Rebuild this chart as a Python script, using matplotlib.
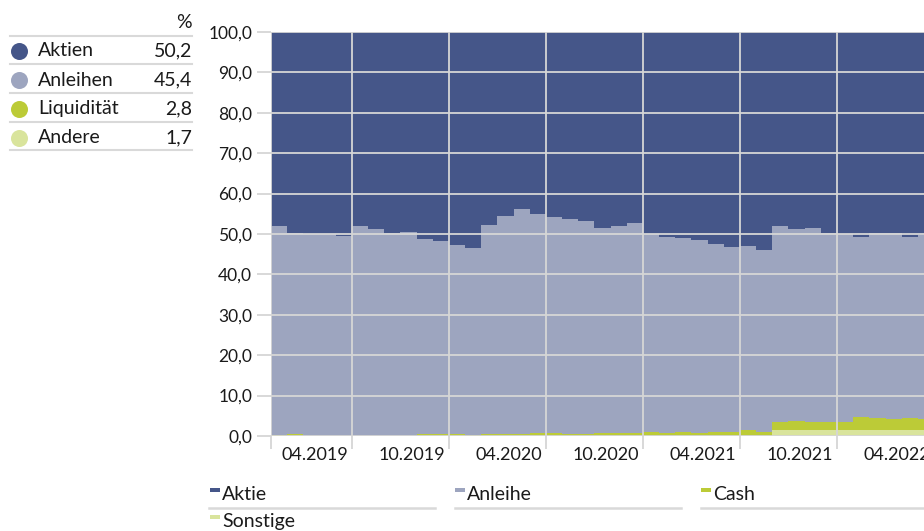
import numpy as np
import matplotlib
matplotlib.use("Agg")
import matplotlib.pyplot as plt

plt.rcParams['font.family'] = ['Lato', 'DejaVu Sans']

# monthly allocation in %, one value per month (steps)
aktie = [48.1, 49.7, 49.9, 49.9, 50.5, 47.9, 48.8, 49.8, 49.4, 51.2,
         51.8, 52.7, 53.4, 47.7, 45.5, 43.7, 45.0, 45.8, 46.3, 46.75,
         48.4, 48.0, 47.3, 50.0, 50.7, 51.0, 51.4, 52.5, 53.1, 52.9,
         54.0, 48.0, 48.8, 48.5, 49.8, 50.0, 50.7, 49.7, 49.7, 50.7, 50.2]
anleihe = [51.65, 49.8, 50.1, 50.1, 49.5, 52.1, 51.2, 50.2, 50.6, 48.3,
           47.7, 46.9, 46.35, 51.7, 53.9, 55.7, 54.25, 53.55, 53.1, 52.75,
           50.85, 51.25, 51.95, 49.1, 48.5, 48.0, 47.8, 46.4, 45.8, 45.6,
           44.9, 48.5, 47.5, 48.0, 46.7, 46.5, 44.7, 45.85, 46.1, 44.9, 45.6]
cash = [0.25, 0.5, 0, 0, 0, 0, 0, 0, 0, 0.5,
        0.5, 0.4, 0.25, 0.6, 0.6, 0.6, 0.75, 0.65, 0.6, 0.5,
        0.75, 0.75, 0.75, 0.9, 0.8, 1.0, 0.8, 1.1, 1.1, 1.5,
        1.1, 2.0, 2.2, 2.0, 2.0, 2.0, 3.0, 2.85, 2.6, 2.8, 2.6]
sonstige = [0] * 31 + [1.5, 1.5, 1.5, 1.5, 1.5, 1.6, 1.6, 1.6, 1.6, 1.6]

series_names = ['Sonstige', 'Cash', 'Anleihe', 'Aktie']
series_colors = ['#d9e49c', '#bccb37', '#9da5bf', '#455689']

tick_labels = ['04.2019', '10.2019', '04.2020', '10.2020', '04.2021', '10.2021', '04.2022']

table_names = ['Aktien', 'Anleihen', 'Liquidität', 'Andere']
table_values = ['50,2', '45,4', '2,8', '1,7']
table_colors = ['#455689', '#9da5bf', '#bccb37', '#d9e49c']

W, H = 924, 531
fig = plt.figure(figsize=(W / 100, H / 100), dpi=100)
ax = fig.add_axes([271 / W, 1 - 436 / H, 1 - 271 / W, (436 - 32) / H])

n = len(aktie)
edges = np.arange(n + 1)
bottom = np.zeros(n)
for vals, col in zip([sonstige, cash, anleihe, aktie], series_colors):
    top = bottom + np.array(vals)
    ax.stairs(top, edges, baseline=bottom, fill=True, color=col, lw=0, zorder=1)
    bottom = top

ax.set_ylim(0, 100)
ax.set_xlim(0, 40.38)
grid_col = '#d6d6d6'
ax.set_yticks(np.arange(0, 101, 10))
ax.set_yticklabels([f'{v:.1f}'.replace('.', ',') for v in range(0, 101, 10)])
ax.set_xticks([0, 5, 11, 17, 23, 29, 35])
ax.set_xticklabels([])
ax.set_xticks(2.7 + 6 * np.arange(len(tick_labels)), minor=True)
ax.set_xticklabels(tick_labels, minor=True)
ax.grid(True, color=grid_col, lw=1.3, zorder=3)
ax.set_axisbelow(False)
ax.tick_params(axis='y', length=10, width=1.3, color=grid_col, pad=3.5,
               labelsize=12.5, labelcolor='#1a1a1a')
ax.tick_params(axis='x', which='major', length=9.5, width=1.3, color=grid_col)
ax.tick_params(axis='x', which='minor', length=0, pad=8, labelsize=13,
               labelcolor='#1a1a1a')
for s in ax.spines.values():
    s.set_visible(False)

# overlay in pixel coordinates for the legend table and the bottom legend
ov = fig.add_axes([0, 0, 1, 1], zorder=5)
ov.set_xlim(0, W)
ov.set_ylim(H, 0)
ov.axis('off')

line_col = '#d9d9d9'
fs = 14
ov.text(192, 22, '%', ha='right', va='center', fontsize=fs, color='#1a1a1a')
rows_y = [51, 80, 108.5, 137.5]
for yl in [35.7, 64.3, 93, 121.7, 150.3]:
    ov.plot([10, 192], [yl, yl], color=line_col, lw=1.5)
for yy, name, val, col in zip(rows_y, table_names, table_values, table_colors):
    ov.scatter([18.5], [yy], s=150, color=col, lw=0)
    ov.text(38, yy, name, ha='left', va='center', fontsize=fs, color='#1a1a1a')
    ov.text(192, yy, val, ha='right', va='center', fontsize=fs, color='#1a1a1a')

leg_names = ['Aktie', 'Anleihe', 'Cash', 'Sonstige']
leg_colors = ['#455689', '#9da5bf', '#bccb37', '#d9e49c']
leg_pos = [(210, 494), (455, 494), (701, 494), (210, 521)]
for (lx, ly), name, col in zip(leg_pos, leg_names, leg_colors):
    ov.add_patch(plt.Rectangle((lx, ly - 6), 10, 4, color=col, lw=0))
    ov.text(lx + 12, ly, name, ha='left', va='center', fontsize=fs, color='#1a1a1a')
for lx in [209, 455, 701]:
    ov.plot([lx, lx + 226], [507.5, 507.5], color=line_col, lw=1.8)

fig.savefig('out.png', dpi=100)
